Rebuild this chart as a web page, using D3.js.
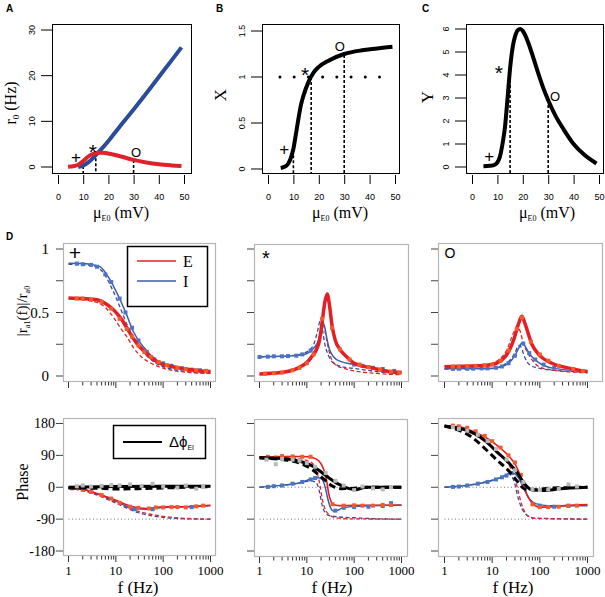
<!DOCTYPE html>
<html><head><meta charset="utf-8">
<script src="https://cdn.jsdelivr.net/npm/d3@7"></script>
<style>body{margin:0;background:#fff}svg{display:block}</style>
</head><body>
<svg id="fig" width="605" height="597"></svg>
<script>
// ---------------- DATA ----------------
// Panel A: stationary rates r0 vs mu_E0
const muA_I = [8,10,12,14,16,18,20,22,25,30,35,40,45,49];
const rA_I  = [0,0.3,1.0,2.0,3.2,4.4,5.7,7.1,9.2,12.6,16.1,19.7,23.3,26.2];
const muA_E = [4,6,8,10,12,14,16,18,21,25,30,35,40,45,49];
const rA_E  = [0.05,0.15,0.5,1.3,2.3,2.9,3.1,3.1,2.85,2.3,1.55,1.0,0.6,0.35,0.2];
const muTicks = [0,10,20,30,40,50];
const rTicks = [0,10,20,30];
const markA_mu = [10,15,30], markA_top = [1.3,3.0,1.55];
// Panel B: X vs mu_E0
const muB = [5,7,8,9,10,11,12,13,14,16,18,20,24,30,37,43,49];
const valB = [0.01,0.03,0.06,0.12,0.22,0.38,0.55,0.70,0.80,0.95,1.05,1.11,1.18,1.25,1.29,1.31,1.33];
const xTicksB = [0,0.5,1,1.5], xTickLabB = ["0","0.5","1","1.5"];
const markB_mu = [10,17,30], markB_top = [0.15,1.0,1.24];
const dotsB_mu = [4.7,10.3,15.9,21.5,27.1,32.7,38.3,43.9];
// Panel C: Y vs mu_E0
const muC = [4.5,7,9,10,11,12,13,14,15,16,17,18,19,20,22,24,26,28,30,33,36,40,44,49];
const valC = [0.03,0.05,0.1,0.2,0.45,1.0,1.75,3.0,4.3,5.2,5.7,5.95,6.0,5.92,5.45,4.8,4.1,3.45,2.9,2.2,1.65,1.0,0.55,0.15];
const yTicksC = [0,1,2,3,4,5,6];
const markC_mu = [15,30], markC_top = [4.0,2.7];
// Symbol positions [mu, value, symbol]
const symA = [[7.1,2.2,"+"],[13.8,4.4,"*"],[31,3.3,"O"]];
const symB = [[6.4,0.21,"+"],[14.6,1.08,"*"],[28.3,1.33,"O"]];
const symC = [[6.8,0.45,"+"],[10.6,4.3,"*"],[32.7,3.06,"O"]];

// Panel D amplitude |r_a1(f)|/r_a0, pairs [f, value]
const ampP_E  = [[1,.615],[2,.61],[4,.60],[6,.57],[9,.52],[13,.45],[17,.38],[23,.30],[32,.23],[50,.16],[85,.10],[150,.075],[300,.055],[600,.04],[1000,.035]];
const ampP_Ed = [[1,.61],[2,.60],[4,.58],[6,.54],[9,.46],[13,.37],[17,.31],[25,.21],[35,.15],[50,.11],[85,.07],[150,.045],[300,.03],[1000,.02]];
const ampP_Em = [[1.5,.61],[2,.61],[3,.60],[5,.585],[8,.53],[12,.45],[17,.37],[22,.31],[30,.24],[40,.19],[55,.15],[80,.11],[120,.085],[200,.065],[300,.055],[500,.045],[800,.04]];
const ampP_I  = [[1,.887],[2,.885],[3.4,.875],[4.7,.86],[7.6,.755],[12.3,.60],[17,.48],[23.4,.35],[38,.23],[72,.126],[162,.073],[400,.048],[1000,.035]];
const ampP_Id = [[1,.88],[2,.875],[3,.87],[5,.83],[8,.70],[12,.55],[17,.41],[25,.29],[40,.18],[70,.10],[150,.055],[400,.03],[1000,.02]];
const ampP_Im = [[1.5,.885],[2,.88],[3,.875],[4,.86],[6,.80],[8,.74],[12,.61],[16,.50],[22,.38],[30,.28],[45,.19],[65,.13],[100,.10],[150,.08],[250,.06],[400,.05],[600,.045],[800,.04]];

const ampS_E  = [[1,.016],[2.8,.027],[6.3,.06],[12,.14],[18,.26],[21,.42],[24,.58],[27,.645],[30,.56],[34,.40],[40,.28],[50,.21],[70,.15],[100,.10],[260,.06],[800,.027],[1000,.025]];
const ampS_Ed = [[1,.015],[3,.025],[6,.05],[10,.10],[14,.17],[17,.26],[19,.33],[21,.38],[22.5,.40],[24,.36],[27,.26],[32,.15],[40,.09],[60,.06],[100,.04],[300,.02],[1000,.01]];
const ampS_Em = [[1.3,.018],[2,.022],[3,.027],[5,.045],[7,.065],[10,.10],[14,.17],[21,.45],[34,.38],[50,.21],[80,.13],[130,.09],[200,.07],[350,.05],[600,.035],[900,.028]];
const ampS_I  = [[1,.152],[3,.155],[5,.16],[8.8,.17],[14,.22],[18,.29],[20,.36],[22,.42],[24,.38],[27,.28],[30,.21],[37,.15],[51,.115],[100,.09],[260,.06],[800,.035],[1000,.033]];
const ampS_Id = [[1,.15],[3,.155],[6,.165],[10,.19],[14,.25],[17,.36],[19,.43],[21,.38],[24,.25],[28,.17],[37,.10],[60,.07],[100,.06],[300,.035],[1000,.02]];
const ampS_Im = [[1,.15],[1.5,.152],[2,.155],[3,.155],[4,.157],[6,.16],[8,.17],[12,.2],[100,.09],[150,.08],[250,.065],[400,.055],[700,.04]];

const ampO_E  = [[1,.073],[5,.08],[10,.09],[18.6,.15],[28,.28],[35,.40],[42,.47],[49,.41],[68,.25],[100,.16],[180,.10],[475,.057],[770,.04],[1000,.035]];
const ampO_Ed = [[1,.075],[5,.08],[10,.10],[20,.2],[28,.34],[33,.39],[38,.36],[45,.26],[58,.17],[100,.07],[200,.045],[500,.03],[1000,.025]];
const ampO_Em = [[1.5,.075],[2,.075],[3,.077],[4.5,.08],[7,.085],[10,.09],[15,.12],[22,.2],[33,.37],[42,.46],[65,.27],[100,.17],[150,.12],[250,.08],[500,.055],[800,.04]];
const ampO_I  = [[1,.057],[10,.06],[18.6,.085],[30,.16],[36,.22],[42,.26],[50,.23],[57,.19],[100,.10],[200,.06],[770,.04],[1000,.037]];
const ampO_Id = [[1,.055],[10,.06],[20,.1],[30,.18],[36,.24],[40,.23],[48,.15],[60,.09],[100,.06],[300,.04],[1000,.03]];
const ampO_Im = [[1.5,.056],[2,.057],[3,.057],[4,.058],[6,.06],[8,.06],[12,.065],[16,.075],[22,.1],[30,.16],[45,.255],[60,.18],[80,.13],[120,.09],[200,.065]];

// Panel D phase (degrees), pairs [f, value]
const phP_E  = [[1,-2],[2.3,-8],[4.5,-20],[10,-37],[23,-55],[45,-60],[100,-55],[316,-55],[1000,-51]];
const phP_Ed = [[1,-2],[3,-15],[10,-42],[30,-68],[100,-82],[300,-88],[1000,-90]];
const phP_Em = [[1.2,-3],[2,-7],[3,-12],[5,-22],[8,-32],[12,-44],[20,-55],[30,-58],[50,-60],[70,-57],[100,-57],[150,-56],[200,-56],[300,-57],[500,-54],[700,-52]];
const phP_I  = [[1,-2],[2.3,-8],[4.5,-21],[10,-39],[23,-60],[45,-62],[100,-57],[316,-55],[1000,-52]];
const phP_Id = [[1,-2],[3,-16],[10,-45],[30,-72],[100,-85],[300,-89],[1000,-90]];
const phP_Im = [[3,-13],[25,-62],[60,-62],[400,-56]];
const phP_D  = [[1,0],[10,2],[100,3],[1000,3]];
const phP_Dd = [[1,-2],[5,-3],[10,-5],[30,-4],[100,-2],[1000,2]];
const phP_Dm = [[1.5,3],[2,5],[3,2],[5,4],[8,6],[12,5],[20,8],[35,4],[60,10],[100,2],[200,-1],[300,5],[500,-4],[700,2]];

const phS_E  = [[1,85],[3,87],[8,87],[13,84],[18,74],[22,55],[25,31],[27,8],[29,-18],[32,-38],[35,-47],[48,-52],[100,-51],[1000,-51]];
const phS_Ed = [[1,85],[3,86],[6,82],[10,75],[13,68],[15,55],[17,35],[19,5],[21,-30],[24,-60],[30,-78],[40,-86],[70,-89],[1000,-90]];
const phS_Em = [[1.5,86],[2.2,84],[3,88],[5,87],[8,86],[12,86],[35,-48],[60,-52],[100,-51],[150,-52],[250,-52],[400,-50],[600,-50]];
const phS_I  = [[1,0],[3,6],[6.8,12],[13,24],[18,27],[21,22],[23,12],[25,-5],[27,-26],[32,-59],[37,-68],[45,-65],[55,-59],[100,-54],[1000,-50]];
const phS_Id = [[1,0],[3,5],[7,12],[12,18],[15,15],[17,5],[19,-20],[21,-50],[24,-70],[30,-80],[50,-84],[100,-86],[300,-89],[1000,-90]];
const phS_Im = [[1.5,1],[2,3],[3,5],[5,10],[8,15],[12,22],[15,26],[40,-66],[60,-58],[100,-56],[200,-55],[400,-53],[600,-45]];
const phS_D  = [[1,83],[3,81],[6.8,74],[13,60],[21,41],[29,27],[48,8],[78,-4],[105,-7],[175,0],[1000,0]];
const phS_Dd = [[1,83],[3,78],[6.8,69],[13,50],[21,27],[35,3],[55,-4],[100,-3],[200,0],[1000,0]];
const phS_Dm = [[1.4,78],[2.2,65],[3,80],[5,78],[7,75],[10,68],[15,58],[25,40],[40,18],[60,5],[100,-8],[150,2],[250,-3],[400,-6],[600,0]];

const phO_E  = [[1,173],[2,171],[3.8,159],[7.2,141],[13,117],[22,89],[30,66],[38,37],[45,9],[53,-19],[67,-42],[100,-56],[150,-56],[330,-52],[1000,-49]];
const phO_Ed = [[1,172],[3,158],[6,135],[10,112],[15,92],[20,72],[25,52],[30,25],[35,-10],[42,-50],[55,-80],[80,-88],[1000,-90]];
const phO_Em = [[1.5,174],[2,172],[3,168],[4.5,158],[7,145],[10,130],[15,112],[22,90],[30,70],[40,35],[70,-48],[100,-56],[150,-56],[250,-55],[400,-53],[600,-52]];
const phO_I  = [[1,0],[3.8,7],[10,19],[19,33],[25,42],[30,38],[35,28],[45,0],[57,-28],[85,-47],[150,-52],[1000,-52]];
const phO_Id = [[1,0],[4,8],[10,20],[18,32],[22,38],[26,30],[30,8],[35,-30],[42,-60],[55,-80],[80,-87],[1000,-90]];
const phO_Im = [[1.5,1],[2,2],[3,5],[5,10],[8,15],[12,22],[16,28],[20,33],[25,40],[100,-52],[200,-55],[400,-52]];
const phO_D  = [[1,173],[3.8,155],[7.2,131],[13,98],[22,70],[35,37.5],[48,9],[67,-7],[127,-9],[240,-5],[1000,0]];
const phO_Dd = [[1,173],[3.8,141],[7.2,108],[13,75],[22,47],[35,14],[48,-5],[80,-7],[150,-3],[1000,0]];
const phO_Dm = [[1.5,170],[2,165],[3,160],[5,148],[8,130],[12,108],[20,78],[30,48],[45,15],[70,-5],[100,-8],[150,-6],[250,-5],[400,8],[600,2]];

const ampTicks = [0,0.25,0.5,0.75,1], ampLabels = {0:"0",0.5:"0.5",1:"1"};
const phTicks = [-180,-90,0,90,180];
const fLabels = [1,10,100,1000];
const refLines = [0,-90];
const panelSyms = ["+","*","O"];

// ---------------- DRAWING ----------------
const svg = d3.select('#fig');
const SERIF = "'Liberation Serif','Times New Roman',serif";
const SANS = "'Liberation Sans',Arial,Helvetica,sans-serif";
const RED = '#e31e24', REDD = '#d8282e', ORG = '#f15a2b';
const BLUE = '#3b5cab', BLUED = '#46479c', BLUEM = '#4a74c4';
const GREY = '#b8b8b8';
// symbol glyph size and vertical centre offset (fraction of em above baseline)
const symStyle = {"+":[17,0.34],"*":[21,0.57],"O":[13,0.36]};
const symStyleD = {"+":[21,0.34],"*":[20,0.57],"O":[14,0.36]};

[["A",6,12],["B",216,12],["C",422,12],["D",6,240]].forEach(([t,x,y]) =>
  svg.append('text').attr('x',x).attr('y',y).attr('font-family',SANS).attr('font-weight','bold')
    .attr('font-size',10).text(t));

function symText(g, x, y, s, style) {
  const [fs, k] = style[s];
  g.append('text').attr('x',x).attr('y',y + k*fs).attr('text-anchor','middle')
    .attr('font-family',SANS).attr('font-size',fs).text(s);
}

function topPanel(cfg) {
  const g = svg.append('g');
  const {xs, ys, box} = cfg;
  g.append('rect').attr('x',box[0]+.5).attr('y',box[1]+.5).attr('width',box[2]-box[0]).attr('height',box[3]-box[1])
    .attr('fill','none').attr('stroke','#000').attr('stroke-width',1);
  const ax = g.append('g').attr('transform',`translate(0,${box[3]+2})`)
    .call(d3.axisBottom(xs).tickValues(muTicks).tickSize(9).tickPadding(10));
  ax.select('.domain').remove();
  ax.selectAll('line').attr('stroke','#000');
  ax.selectAll('text').attr('font-family',SANS).attr('font-size',9).attr('fill','#000');
  cfg.yTicks.forEach((t,i) => {
    g.append('line').attr('x1',box[0]-11).attr('x2',box[0]).attr('y1',ys(t)).attr('y2',ys(t)).attr('stroke','#000');
    g.append('text').attr('transform',`translate(${box[0]-17},${ys(t)}) rotate(-90)`)
      .attr('text-anchor','middle').attr('font-family',SANS).attr('font-size',9)
      .text(cfg.yLabels ? cfg.yLabels[i] : t);
  });
  return g;
}

function muTitle(cx) {
  const t = svg.append('text').attr('x',cx).attr('y',218).attr('text-anchor','middle')
    .attr('font-family',SERIF).attr('font-size',16);
  t.append('tspan').text('μ');
  t.append('tspan').attr('font-size',8).attr('dy',3).text('E0');
  t.append('tspan').attr('dy',-3).text(' (mV)');
}
function symbols(g, xs, ys, arr) {
  arr.forEach(([m,v,s]) => symText(g, xs(m), ys(v), s, symStyle));
}
function vdash(g, xs, ys, mus, tops, bottom) {
  mus.forEach((m,i) => g.append('line').attr('x1',xs(m)).attr('x2',xs(m)).attr('y1',ys(tops[i])).attr('y2',bottom)
    .attr('stroke','#000').attr('stroke-width',1.6).attr('stroke-dasharray','3,2'));
}
const lineGen = (xs, ys) => d3.line().x(d=>xs(d[0])).y(d=>ys(d[1])).curve(d3.curveMonotoneX);

// Panel A
{
  const xs = d3.scaleLinear().domain([0,50]).range([58,184]);
  const ys = d3.scaleLinear().domain([0,30]).range([167,30]);
  const g = topPanel({xs, ys, box:[52,24,191,173], yTicks:rTicks});
  vdash(g, xs, ys, markA_mu, markA_top, 173);
  g.append('path').attr('d', lineGen(xs,ys)(d3.zip(muA_I, rA_I))).attr('fill','none').attr('stroke','#2b4c9b').attr('stroke-width',4);
  g.append('path').attr('d', lineGen(xs,ys)(d3.zip(muA_E, rA_E))).attr('fill','none').attr('stroke','#e0232b').attr('stroke-width',4);
  symbols(g, xs, ys, symA);
  const t = svg.append('text').attr('transform','translate(16,103) rotate(-90)').attr('text-anchor','middle')
    .attr('font-family',SERIF).attr('font-size',16);
  t.append('tspan').text('r');
  t.append('tspan').attr('font-size',9).attr('dy',3).text('0');
  t.append('tspan').attr('dy',-3).text(' (Hz)');
  muTitle(121);
}
// Panel B
{
  const xs = d3.scaleLinear().domain([0,50]).range([268,395]);
  const ys = d3.scaleLinear().domain([0,1.5]).range([169,31]);
  const g = topPanel({xs, ys, box:[262,24,399,173], yTicks:xTicksB, yLabels:xTickLabB});
  dotsB_mu.forEach(m => g.append('circle').attr('cx',xs(m)).attr('cy',ys(1)).attr('r',1.5).attr('fill','#000'));
  vdash(g, xs, ys, markB_mu, markB_top, 173);
  g.append('path').attr('d', lineGen(xs,ys)(d3.zip(muB, valB))).attr('fill','none').attr('stroke','#000').attr('stroke-width',4);
  symbols(g, xs, ys, symB);
  svg.append('text').attr('transform','translate(226,95) rotate(-90)').attr('text-anchor','middle')
    .attr('font-family',SERIF).attr('font-size',17).text('X');
  muTitle(340);
}
// Panel C
{
  const xs = d3.scaleLinear().domain([0,50]).range([472,599]);
  const ys = d3.scaleLinear().domain([0,6]).range([167,29]);
  const g = topPanel({xs, ys, box:[466,24,603,173], yTicks:yTicksC});
  vdash(g, xs, ys, markC_mu, markC_top, 173);
  g.append('path').attr('d', lineGen(xs,ys)(d3.zip(muC, valC))).attr('fill','none').attr('stroke','#000').attr('stroke-width',4);
  symbols(g, xs, ys, symC);
  svg.append('text').attr('transform','translate(433,97) rotate(-90)').attr('text-anchor','middle')
    .attr('font-family',SERIF).attr('font-size',17).text('Y');
  muTitle(547);
}

// Panel D
const colX = [[68.5,210.5],[259.5,401.5],[444.5,587.5]];
const topBoxes = [[63,243,215,381],[254,244,408,381],[438,243,602,381]];
const botBoxes = [[63,418,215,555],[254,419,407,556],[438,418,593,556]];
const yAmp = d3.scaleLinear().domain([0,1]).range([376,249]);
const yPh = d3.scaleLinear().domain([-180,180]).range([551,423.5]);
const fTickVals = [];
[1,10,100].forEach(d => { for (let k=1;k<10;k++) fTickVals.push(d*k); });
fTickVals.push(1000);

function dFrame(box, xs, ys, yticks) {
  const g = svg.append('g');
  g.append('rect').attr('x',box[0]+.5).attr('y',box[1]+.5).attr('width',box[2]-box[0]).attr('height',box[3]-box[1])
    .attr('fill','#fff').attr('stroke','#b5b5b5').attr('stroke-width',1.2);
  yticks.forEach(t => g.append('line').attr('x1',box[0]-7).attr('x2',box[0]).attr('y1',ys(t)).attr('y2',ys(t))
    .attr('stroke','#444').attr('stroke-width',1));
  fTickVals.forEach(f => {
    const major = fLabels.includes(f);
    g.append('line').attr('x1',xs(f)).attr('x2',xs(f)).attr('y1',box[3]+1).attr('y2',box[3]+(major?7:4.5))
      .attr('stroke','#333').attr('stroke-width',1);
  });
  return g;
}
function drawLine(g, xs, ys, data, color, width, dash) {
  const p = g.append('path').attr('d', lineGen(xs,ys)(data)).attr('fill','none')
    .attr('stroke',color).attr('stroke-width',width).attr('stroke-linejoin','round');
  if (dash) p.attr('stroke-dasharray',dash);
}
function drawMarks(g, xs, ys, data, color) {
  g.selectAll(null).data(data).enter().append('rect')
    .attr('x',d=>xs(d[0])-2).attr('y',d=>ys(d[1])-2).attr('width',4).attr('height',4).attr('fill',color);
}

const ampSets = [
  [ampP_E,ampP_Ed,ampP_Em,ampP_I,ampP_Id,ampP_Im],
  [ampS_E,ampS_Ed,ampS_Em,ampS_I,ampS_Id,ampS_Im],
  [ampO_E,ampO_Ed,ampO_Em,ampO_I,ampO_Id,ampO_Im]];
const phSets = [
  [phP_E,phP_Ed,phP_Em,phP_I,phP_Id,phP_Im,phP_D,phP_Dd,phP_Dm],
  [phS_E,phS_Ed,phS_Em,phS_I,phS_Id,phS_Im,phS_D,phS_Dd,phS_Dm],
  [phO_E,phO_Ed,phO_Em,phO_I,phO_Id,phO_Im,phO_D,phO_Dd,phO_Dm]];

for (let c=0;c<3;c++) {
  const xs = d3.scaleLog().domain([1,1000]).range(colX[c]);
  const [E,Ed,Em,I,Id,Im] = ampSets[c];
  const g = dFrame(topBoxes[c], xs, yAmp, ampTicks);
  drawLine(g, xs, yAmp, Id, BLUED, 1.3, '4,2.5');
  drawLine(g, xs, yAmp, Ed, REDD, 1.3, '4,2.5');
  drawLine(g, xs, yAmp, I, BLUE, 1.5);
  drawMarks(g, xs, yAmp, Im, BLUEM);
  drawLine(g, xs, yAmp, E, RED, 3.5);
  drawMarks(g, xs, yAmp, Em, ORG);
  symText(g, topBoxes[c][0]+12, topBoxes[c][1]+10, panelSyms[c], symStyleD);
  const [pE,pEd,pEm,pI,pId,pIm,pD,pDd,pDm] = phSets[c];
  const h = dFrame(botBoxes[c], xs, yPh, phTicks);
  refLines.forEach(v => h.append('line').attr('x1',xs(1)).attr('x2',xs(1000)).attr('y1',yPh(v)).attr('y2',yPh(v))
    .attr('stroke','#777').attr('stroke-width',1).attr('stroke-dasharray','1,2.5'));
  drawLine(h, xs, yPh, pId, BLUED, 1.3, '4,2.5');
  drawLine(h, xs, yPh, pEd, REDD, 1.3, '4,2.5');
  drawLine(h, xs, yPh, pI, BLUE, 1.5);
  drawLine(h, xs, yPh, pE, RED, 1.6);
  drawMarks(h, xs, yPh, pIm, BLUEM);
  drawMarks(h, xs, yPh, pEm, ORG);
  drawLine(h, xs, yPh, pDd, '#000', 3, '7,4');
  drawLine(h, xs, yPh, pD, '#000', 3);
  drawMarks(h, xs, yPh, pDm, GREY);
  fLabels.forEach(f => svg.append('text').attr('x',xs(f)).attr('y',575).attr('text-anchor','middle')
    .attr('font-family',SERIF).attr('font-size',13).text(f));
  svg.append('text').attr('x',[138,332,513][c]).attr('y',593).attr('text-anchor','middle')
    .attr('font-family',SERIF).attr('font-size',17).text('f (Hz)');
}

ampTicks.filter(t => ampLabels[t] !== undefined).forEach(t =>
  svg.append('text').attr('x',49).attr('y',yAmp(t)).attr('text-anchor','end').attr('dominant-baseline','central')
    .attr('font-family',SERIF).attr('font-size',15).text(ampLabels[t]));
phTicks.forEach(t =>
  svg.append('text').attr('x',55).attr('y',yPh(t)).attr('text-anchor','end').attr('dominant-baseline','central')
    .attr('font-family',SERIF).attr('font-size',14).text(t));
{
  const t = svg.append('text').attr('transform','translate(27,311) rotate(-90)').attr('text-anchor','middle')
    .attr('font-family',SERIF).attr('font-size',15);
  t.append('tspan').text('|r');
  t.append('tspan').attr('font-size',8).attr('dy',3).text('a1');
  t.append('tspan').attr('dy',-3).text('(f)|/r');
  t.append('tspan').attr('font-size',8).attr('dy',3).text('a0');
  svg.append('text').attr('transform','translate(28,482) rotate(-90)').attr('text-anchor','middle')
    .attr('font-family',SERIF).attr('font-size',16).text('Phase');
}
{
  const g = svg.append('g');
  g.append('rect').attr('x',127.5).attr('y',246.5).attr('width',80).attr('height',60).attr('fill','#fff')
    .attr('stroke','#000').attr('stroke-width',1.5);
  [["E",RED,261],["I",BLUE,281]].forEach(([t,c,y]) => {
    g.append('line').attr('x1',137).attr('x2',176).attr('y1',y).attr('y2',y).attr('stroke',c).attr('stroke-width',1.5);
    g.append('text').attr('x',183).attr('y',y).attr('dominant-baseline','central').attr('font-family',SERIF)
      .attr('font-size',16).text(t);
  });
  const h = svg.append('g');
  h.append('rect').attr('x',113.5).attr('y',425.5).attr('width',92).attr('height',33).attr('fill','#fff')
    .attr('stroke','#000').attr('stroke-width',1.5);
  h.append('line').attr('x1',123).attr('x2',162).attr('y1',442).attr('y2',442).attr('stroke','#000').attr('stroke-width',2);
  const t = h.append('text').attr('x',169).attr('y',447).attr('font-family',SANS).attr('font-size',15);
  t.append('tspan').text('Δϕ');
  t.append('tspan').attr('font-size',7).attr('dy',3).text('EI');
}
</script>
</body></html>
